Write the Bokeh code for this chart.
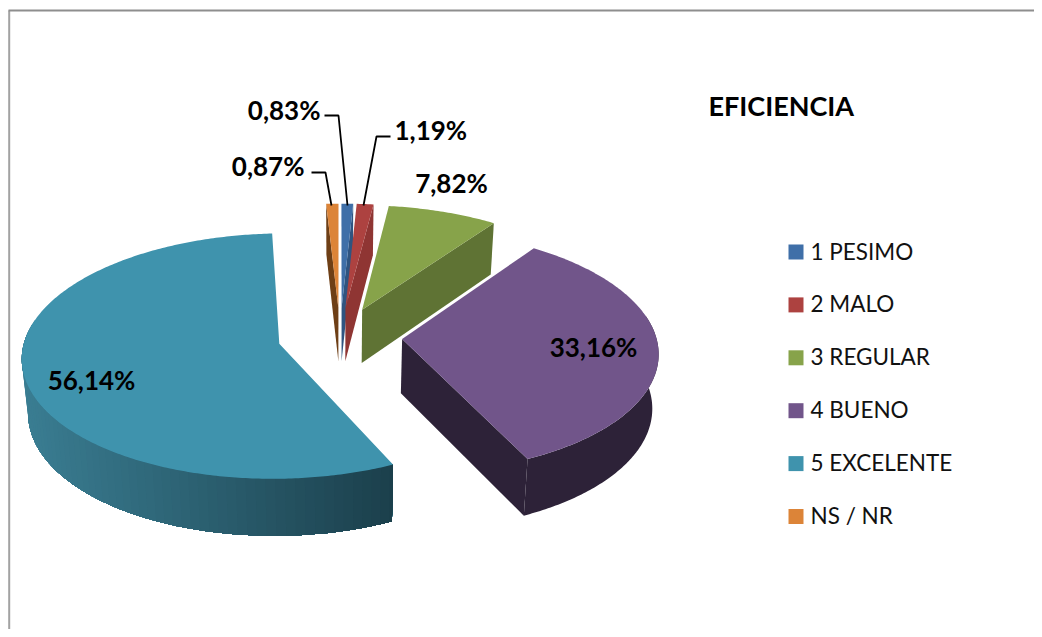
import math
from bokeh.plotting import figure
from bokeh.models import Range1d
from bokeh.core.properties import value
from bokeh.embed import file_html
from bokeh.resources import INLINE

categories = ["1 PESIMO", "2 MALO", "3 REGULAR", "4 BUENO", "5 EXCELENTE", "NS / NR"]
values = [0.83, 1.19, 7.82, 33.16, 56.14, 0.87]
labels = ["0,83%", "1,19%", "7,82%", "33,16%", "56,14%", "0,87%"]
top_colors = ["#3f6fa8", "#ad4240", "#87a34a", "#71558a", "#3f93ad", "#dc8438"]
cut_colors = ["#2f5480", "#8f3533", "#5f7334", "#2d2238", "#1c3f4b", "#6e3f16"]
title = "EFICIENCIA"

W, H = 1034, 629
FONT = "Lato"
CX, CY, R, A, PERSP, EXPL, DEPTH = 339.5, 336, 254, 120, 0.10, 0.245, 54
FLOOR_SHRINK = 0.98

p = figure(width=W, height=H, output_backend="svg", toolbar_location=None,
           x_range=Range1d(0, W), y_range=Range1d(H, 0),
           x_axis_type=None, y_axis_type=None, min_border=0)
p.outline_line_color = None
p.grid.visible = False
p.background_fill_color = "white"


def proj(u, v, down=False):
    s = 1 / (1 + PERSP * v)
    d = DEPTH / (1 + 0.05 * v)
    if down:
        return CX + R * u * s * FLOOR_SHRINK, CY - A * v * s + d
    return CX + R * u * s, CY - A * v * s


def mix(c1, c2, t):
    a = [int(c1[i:i + 2], 16) for i in (1, 3, 5)]
    b = [int(c2[i:i + 2], 16) for i in (1, 3, 5)]
    return "#%02x%02x%02x" % tuple(round(x + (y - x) * t) for x, y in zip(a, b))


# slice geometry from the values
total = sum(values)
angles = []
cum = 0
for v in values:
    angles.append((cum / total * 360, (cum + v) / total * 360))
    cum += v
angles[5] = (angles[5][0] - 360, angles[5][1] - 360)


def face(i):
    a1, a2 = angles[i]
    m = math.radians((a1 + a2) / 2)
    return a1, a2, EXPL * math.sin(m), EXPL * math.cos(m)


p.line([8.7, 8.7], [H, 10], line_color="#a2a2a2", line_width=2)
p.line([8, W], [10, 10], line_color="#8e8e8e", line_width=2)

for i in [5, 0, 1, 2, 3, 4]:
    a1, a2, ou, ov = face(i)
    n = max(6, int((a2 - a1) * 1.5))
    arc = [math.radians(a1 + (a2 - a1) * k / n) for k in range(n + 1)]
    pts = [(ou + math.sin(t), ov + math.cos(t)) for t in arc]
    apex = (ou, ov)

    # cut faces that look towards the viewer
    for ang, sign in ((a1, -1), (a2, 1)):
        t = math.radians(ang)
        if sign * (-math.sin(t)) < 0:
            e = (ou + math.sin(t), ov + math.cos(t))
            q = [proj(*apex), proj(*e), proj(*e, True), proj(*apex, True)]
            p.patch([c[0] for c in q], [c[1] for c in q],
                    fill_color=cut_colors[i], line_color=None)

    # outer wall; the long slice is shaded in bands painted from left to right
    vis = [c for c, t in zip(pts, arc) if math.cos(t) <= 0.2]
    if len(vis) >= 2:
        step = 3 if i == 4 else len(vis)
        for k in range(0, len(vis) - 1, step):
            rest = vis[: len(vis) - k]
            up = [proj(*c) for c in rest]
            dn = [proj(*c, True) for c in reversed(rest)]
            q = up + dn
            col = cut_colors[i]
            if i == 4:
                col = mix("#3a7d92", "#1b3f4b", min(1, max(0, (up[-1][0] - 22) / 368)))
            p.patch([c[0] for c in q], [c[1] for c in q], fill_color=col, line_color=None)

    # top
    top = [proj(*apex)] + [proj(*c) for c in pts]
    p.patch([c[0] for c in top], [c[1] for c in top],
            fill_color=top_colors[i], line_color=None)

# data labels
lab_pos = [(320, 109, "right"), (394, 129, "left"), (451, 182, "center"),
           (593, 346, "center"), (91, 379, "center"), (304, 165, "right")]
for t, (x, y, al) in zip(labels, lab_pos):
    p.text([x], [y], text=[t], text_font=value(FONT), text_font_size="26px",
           text_font_style="bold", text_align=al, text_baseline="middle", text_color="#000000")

# leader lines
for xs, ys in (([324, 338, 347], [115, 115, 205]),
               ([390, 376, 363], [136, 136, 205]),
               ([311, 325, 331], [172, 172, 205])):
    p.line(xs, ys, line_color="#000000", line_width=1.8)

# title
p.text([708], [105], text=[title], text_font=value(FONT), text_font_size="27px", text_font_style="bold",
       text_align="left", text_baseline="middle", text_color="#000000")

# legend
for i, cat in enumerate(categories):
    y = 251.5 + i * 52.9
    p.rect([795.5], [y], width=15, height=15, fill_color=top_colors[i], line_color=None)
    p.text([810], [y - 1], text=[cat], text_font=value(FONT), text_font_size="22.5px",
           text_align="left", text_baseline="middle", text_color="#111111")

open("out.html", "w").write(file_html(p, INLINE))
